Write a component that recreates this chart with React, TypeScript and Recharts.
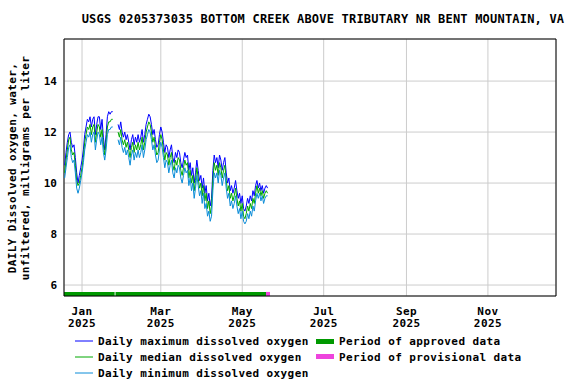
import { LineChart, Line, XAxis, YAxis, CartesianGrid, ReferenceArea } from "recharts";

// days counted from Jan 1 2025; first value is Dec 19 2024 (day -13)
const startDay = -13;

const maxDO = [
  10.7, 11.2, 11.6, 11.9, 12.0, 11.6, 11.4, 11.5, 11.0, 10.4, 10.0, 10.3, 10.6,
  10.9, 11.3, 11.9, 12.2, 12.5, 12.4, 12.6, 12.2, 12.5, 12.6, 11.9, 12.3, 12.6, 12.6, 12.1, 12.5, 11.8, 11.3, 11.9, 12.6, 12.8, 12.7, 12.8, 12.8,
  null, null, null,
  12.3, 12.1, 12.4, 12.0, 11.8, 12.0, 11.7, 11.9, 11.6, 11.3,
  11.7, 11.9, 11.5, 11.8, 11.6, 11.9, 11.6, 11.8, 12.1, 11.6,
  11.9, 12.3, 12.5, 12.7, 12.6, 12.3, 11.9, 12.1, 11.7, 11.4,
  11.5, 11.9, 12.2, 12.0, 11.6, 11.2, 11.5, 11.4, 11.0, 11.3,
  11.5, 11.0, 10.8, 11.2, 11.0, 11.3, 11.2, 10.8, 10.6, 10.9,
  11.2, 11.0, 11.1, 10.5, 10.8, 10.3, 10.6, 10.0, 10.4, 10.9,
  10.5, 10.1, 10.3, 9.8, 10.2, 9.6, 9.9, 9.3, 9.6, 9.1,
  9.4, 10.5, 11.1, 10.8, 11.0, 10.6, 11.1, 10.9, 10.5, 10.8,
  11.0, 10.4, 10.0, 10.2, 9.7, 9.9, 9.6, 9.8, 10.1, 9.7,
  9.4, 9.6, 9.2, 9.5, 9.0, 8.9, 9.1, 9.4, 9.2, 9.5,
  9.3, 9.7, 9.5, 9.9, 10.1, 9.8, 10.0, 9.7, 9.9, 9.6,
  9.8, 9.9, 9.8,
];

const medianDO = [
  10.4, 10.9, 11.3, 11.7, 11.8, 11.3, 11.1, 11.2, 10.7, 10.1, 9.9, 10.0, 10.3,
  10.6, 11.0, 11.6, 11.9, 12.2, 12.1, 12.3, 11.9, 12.2, 12.3, 11.6, 12.0, 12.3, 12.2, 11.8, 12.1, 11.5, 11.1, 11.6, 12.2, 12.4, 12.4, 12.5, 12.5,
  null, null, null,
  12.0, 11.8, 12.1, 11.7, 11.5, 11.7, 11.4, 11.6, 11.3, 11.0,
  11.4, 11.6, 11.2, 11.5, 11.3, 11.6, 11.3, 11.5, 11.8, 11.3,
  11.6, 12.0, 12.2, 12.4, 12.3, 12.0, 11.6, 11.8, 11.4, 11.1,
  11.2, 11.6, 11.9, 11.7, 11.3, 10.9, 11.2, 11.1, 10.7, 11.0,
  11.2, 10.7, 10.5, 10.9, 10.7, 11.0, 10.9, 10.5, 10.3, 10.6,
  10.9, 10.7, 10.8, 10.2, 10.5, 10.0, 10.3, 9.7, 10.1, 10.6,
  10.2, 9.8, 10.0, 9.5, 9.9, 9.3, 9.6, 9.0, 9.3, 8.8,
  9.1, 10.1, 10.8, 10.5, 10.7, 10.3, 10.8, 10.6, 10.2, 10.5,
  10.7, 10.1, 9.7, 9.9, 9.4, 9.6, 9.3, 9.5, 9.8, 9.4,
  9.1, 9.3, 8.9, 9.2, 8.7, 8.6, 8.8, 9.1, 8.9, 9.2,
  9.0, 9.4, 9.2, 9.6, 9.9, 9.6, 9.8, 9.5, 9.7, 9.4,
  9.6, 9.7, 9.6,
];

const minDO = [
  10.2, 10.6, 11.0, 11.4, 11.5, 11.0, 10.8, 10.9, 10.4, 9.8, 9.6, 9.8, 10.1,
  10.4, 10.8, 11.3, 11.6, 11.9, 11.8, 12.0, 11.6, 11.9, 12.0, 11.3, 11.7, 12.0, 11.9, 11.5, 11.8, 11.2, 10.9, 11.3, 11.9, 12.1, 12.1, 12.2, 12.2,
  null, null, null,
  11.7, 11.5, 11.8, 11.4, 11.2, 11.4, 11.1, 11.3, 11.0, 10.7,
  11.1, 11.3, 10.9, 11.2, 11.0, 11.3, 11.0, 11.2, 11.5, 11.0,
  11.3, 11.7, 11.9, 12.1, 12.0, 11.7, 11.3, 11.5, 11.1, 10.8,
  10.9, 11.3, 11.6, 11.4, 11.0, 10.6, 10.9, 10.8, 10.4, 10.7,
  10.9, 10.4, 10.2, 10.6, 10.4, 10.7, 10.6, 10.2, 10.0, 10.3,
  10.6, 10.4, 10.5, 9.9, 10.2, 9.7, 10.0, 9.4, 9.8, 10.3,
  9.9, 9.5, 9.7, 9.2, 9.6, 9.0, 9.2, 8.7, 8.9, 8.5,
  8.7, 9.7, 10.4, 10.2, 10.4, 10.0, 10.5, 10.3, 9.9, 10.2,
  10.4, 9.8, 9.4, 9.6, 9.1, 9.3, 9.0, 9.2, 9.5, 9.1,
  8.8, 9.0, 8.6, 8.9, 8.5, 8.4, 8.5, 8.8, 8.6, 8.9,
  8.7, 9.1, 8.9, 9.3, 9.6, 9.4, 9.6, 9.3, 9.5, 9.2,
  9.4, 9.5, 9.5,
];

// approval periods, in days from Jan 1 2025
const approvedPeriods = [
  [-13.5, 24.4],
  [25.1, 137.8],
];
const provisionalPeriods = [[137.8, 140.8]];

const monthTicks = [0, 59, 120, 181, 243, 304];
const monthLabels = ["Jan", "Mar", "May", "Jul", "Sep", "Nov"];
const yearLabels = ["2025", "2025", "2025", "2025", "2025", "2025"];
const yTicks = [6, 8, 10, 12, 14];

const X_DOMAIN = [-13.5, 355];
const Y_DOMAIN = [5.57, 15.65];

const FONT = "'DejaVu Sans Mono', monospace";
const MAX_COLOR = "#0000ff";
const MED_COLOR = "#00a800";
const MIN_COLOR = "#0a8cd8";
const APPROVED = "#009900";
const PROVISIONAL = "#ee44dd";

const data = maxDO.map((v, i) => ({
  day: startDay + i,
  max: v,
  median: medianDO[i],
  min: minDO[i],
}));

const MonthTick = ({ x, y, payload }: any) => {
  const i = monthTicks.indexOf(payload.value);
  return (
    <g>
      <text x={x} y={y + 19} textAnchor="middle" fontFamily={FONT} fontWeight="bold" fontSize={11} letterSpacing={0.4} fill="#000">
        {monthLabels[i]}
      </text>
      <text x={x} y={y + 31} textAnchor="middle" fontFamily={FONT} fontWeight="bold" fontSize={11} letterSpacing={0.4} fill="#000">
        {yearLabels[i]}
      </text>
    </g>
  );
};

const legendText = { fontFamily: FONT, fontWeight: "bold", fontSize: 11, letterSpacing: 0.4, fill: "#000" } as const;

export default function App() {
  return (
    <div style={{ position: "absolute", left: 0, top: 0, width: 576, height: 384, background: "#fff" }}>
      <LineChart width={576} height={384} data={data} margin={{ top: 39, right: 20, left: 24, bottom: 58 }}>
        <CartesianGrid stroke="#cccccc" horizontalPoints={undefined} />
        <XAxis
          dataKey="day"
          type="number"
          domain={X_DOMAIN}
          allowDataOverflow
          ticks={monthTicks}
          tick={<MonthTick />}
          tickSize={0}
          tickMargin={0}
          axisLine={false}
          height={30}
        />
        <YAxis
          type="number"
          domain={Y_DOMAIN}
          allowDataOverflow
          ticks={yTicks}
          tickSize={0}
          tickMargin={7}
          axisLine={false}
          width={40}
          tick={{ fontFamily: FONT, fontWeight: "bold", fontSize: 11, fill: "#000" }}
        />
        <Line dataKey="max" stroke={MAX_COLOR} strokeWidth={1} dot={false} isAnimationActive={false} />
        <Line dataKey="median" stroke={MED_COLOR} strokeWidth={1} dot={false} isAnimationActive={false} />
        <Line dataKey="min" stroke={MIN_COLOR} strokeWidth={1} dot={false} isAnimationActive={false} />
        {approvedPeriods.map(([a, b], i) => (
          <ReferenceArea key={`ap-${i}`} x1={a} x2={b} y1={5.57} y2={5.73} fill={APPROVED} fillOpacity={1} stroke="none" />
        ))}
        {provisionalPeriods.map(([a, b], i) => (
          <ReferenceArea key={`pp-${i}`} x1={a} x2={b} y1={5.57} y2={5.73} fill={PROVISIONAL} fillOpacity={1} stroke="none" />
        ))}
        <ReferenceArea x1={X_DOMAIN[0]} x2={X_DOMAIN[1]} y1={Y_DOMAIN[0]} y2={Y_DOMAIN[1]} fill="none" stroke="#000" strokeWidth={1} />
      </LineChart>

      <svg width={576} height={384} style={{ position: "absolute", left: 0, top: 0, pointerEvents: "none" }}>
        <text x={323} y={23} textAnchor="middle" fontFamily={FONT} fontWeight="bold" fontSize={12} letterSpacing={0.2} fill="#000">
          USGS 0205373035 BOTTOM CREEK ABOVE TRIBUTARY NR BENT MOUNTAIN, VA
        </text>
        <text transform="translate(16,168) rotate(-90)" textAnchor="middle" {...legendText}>
          DAILY Dissolved oxygen, water,
        </text>
        <text transform="translate(29,168) rotate(-90)" textAnchor="middle" {...legendText}>
          unfiltered, milligrams per liter
        </text>

        <line x1={75} x2={93} y1={341} y2={341} stroke={MAX_COLOR} strokeWidth={1} />
        <text x={98} y={345} {...legendText}>Daily maximum dissolved oxygen</text>
        <line x1={75} x2={93} y1={357} y2={357} stroke={MED_COLOR} strokeWidth={1} />
        <text x={98} y={361} {...legendText}>Daily median dissolved oxygen</text>
        <line x1={75} x2={93} y1={373} y2={373} stroke={MIN_COLOR} strokeWidth={1} />
        <text x={98} y={377} {...legendText}>Daily minimum dissolved oxygen</text>

        <rect x={316} y={339} width={18} height={5} fill={APPROVED} />
        <text x={339} y={345} {...legendText}>Period of approved data</text>
        <rect x={316} y={354} width={18} height={5} fill={PROVISIONAL} />
        <text x={339} y={361} {...legendText}>Period of provisional data</text>
      </svg>
    </div>
  );
}
